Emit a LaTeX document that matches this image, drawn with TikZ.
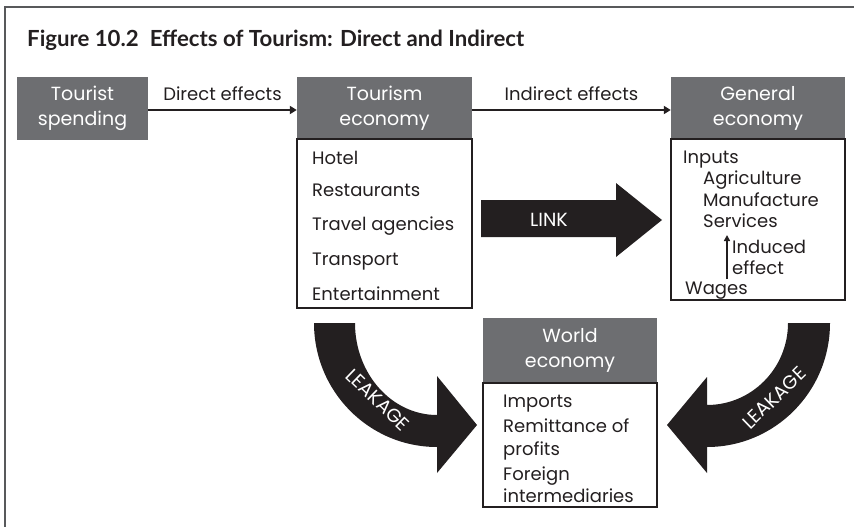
\documentclass[tikz,border=0pt]{standalone}
\usepackage{fontspec}
\setmainfont{Poppins}
\newfontfamily\titlefont{Lato}
\usepackage{tikz}
\usetikzlibrary{arrows.meta}
\definecolor{boxgray}{HTML}{6D6E71}
\definecolor{inkblack}{HTML}{231F20}
\definecolor{framegray}{HTML}{58595B}

\begin{document}
\begin{tikzpicture}[x=1pt, y=-1pt,
    head/.style={fill=boxgray, text=white, inner sep=0pt, align=center,
      font=\fontsize{19}{25}\selectfont},
    listbox/.style={draw=inkblack, line width=1.2pt, inner sep=0pt},
    item/.style={anchor=base west, inner sep=0pt, align=left, text=inkblack,
      font=\fontsize{18}{21}\selectfont},
    flow/.style={line width=2.6pt, inkblack, -{Triangle[length=7pt, width=8pt]}},
    fat/.style={fill=inkblack},
    leak/.style={text=white, inner sep=0pt,
      font=\fontsize{19}{19}\selectfont}]
  \useasboundingbox (0,0) rectangle (854,527);
  % frame and title
  \draw[line width=1.5pt, framegray] (5,527) -- (5,7) -- (854,7);
  \node[anchor=base west, inner sep=0pt, text=inkblack,
    font=\titlefont\bfseries\fontsize{22.2}{24}\selectfont] (title) at (27,47)
    {Figure 10.2\enspace Effects of Tourism: Direct and Indirect};

  % header boxes
  \node[head, minimum width=131pt, minimum height=63pt] (spend) at (82.5,108.5) {Tourist\\spending};
  \node[head, minimum width=175pt, minimum height=62pt] (tourhead) at (384.5,108) {Tourism\\economy};
  \node[head, minimum width=174pt, minimum height=62pt] (genhead) at (758,108) {General\\economy};
  \node[head, minimum width=174pt, minimum height=65pt] (worldhead) at (570,350.5) {World\\economy};

  % list boxes
  \node[listbox, minimum width=175pt, minimum height=169pt] (tourbox) at (384.5,223.5) {};
  \node[listbox, minimum width=174pt, minimum height=161pt] (genbox) at (758,219.5) {};
  \node[listbox, minimum width=174pt, minimum height=124pt] (worldbox) at (570,445) {};

  % tourism economy items
  \node[item] (hotel) at (312,164) {Hotel};
  \node[item] (rest) at (312,196) {Restaurants};
  \node[item] (travel) at (312,230) {Travel agencies};
  \node[item] (transp) at (312,265) {Transport};
  \node[item] (enter) at (312,300) {Entertainment};

  % general economy items
  \node[item] (inputs) at (683,163) {Inputs};
  \node[item] (agri) at (703,184) {Agriculture};
  \node[item] (manu) at (703,206) {Manufacture};
  \node[item] (serv) at (703,227) {Services};
  \node[item] (induced) at (732,253) {Induced};
  \node[item] (effect) at (732,274) {effect};
  \node[item] (wages) at (685,294) {Wages};
  \coordinate (indlow) at (727,279);
  \coordinate (indtop) at (727,235);
  \draw[line width=2pt, inkblack, -{Triangle[length=6pt, width=6pt]}] (indlow) -- (indtop);

  % world economy items
  \node[item] (imports) at (503,407) {Imports};
  \node[item] (remit) at (503,432) {Remittance of};
  \node[item] (profits) at (503,455) {profits};
  \node[item] (foreign) at (503,480) {Foreign};
  \node[item] (interm) at (503,502) {intermediaries};

  % flows
  \draw[flow] (spend.east |- 0,110) -- (tourhead.west |- 0,110)
    node[midway, above=5pt, font=\fontsize{18}{21}\selectfont, text=inkblack] (direct) {Direct effects};
  \draw[flow] (tourhead.east |- 0,110) -- (genhead.west |- 0,110)
    node[midway, above=5pt, font=\fontsize{18}{21}\selectfont, text=inkblack] (indirect) {Indirect effects};

  % link arrow
  \fill[fat] (481,200) -- (616,200) -- (616,183) -- (662,220) -- (616,257)
    -- (616,237) -- (481,237) -- cycle;
  \node[text=white, font=\fontsize{19}{19}\selectfont] (link) at (549,220) {LINK};

  % leakage arrows
  \fill[fat] (314,323) -- (355,323) arc[start angle=180, end angle=90, x radius=82, y radius=92]
    -- (437,376) -- (477,425) -- (437,473) -- (437,447)
    arc[start angle=90, end angle=180, x radius=123, y radius=124] -- cycle;
  \fill[fat] (830,323) -- (788,323) arc[start angle=0, end angle=90, x radius=81, y radius=82]
    -- (707,377) -- (667,425) -- (707,473) -- (707,447)
    arc[start angle=90, end angle=0, x radius=123, y radius=124] -- cycle;
  \node[leak, rotate=-44] (leakleft) at (378,400) {LEAKAGE};
  \node[leak, rotate=44] (leakright) at (774,398) {LEAKAGE};
\end{tikzpicture}
\end{document}
